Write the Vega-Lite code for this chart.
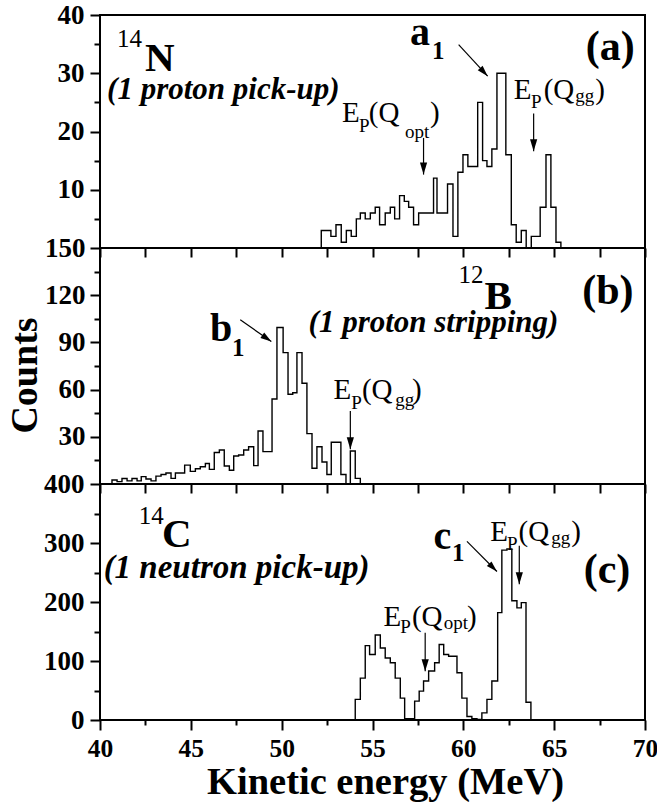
{
  "$schema": "https://vega.github.io/schema/vega-lite/v6.json",
  "background": "white",
  "padding": {"left": 4, "top": 0, "right": 0, "bottom": 0},
  "bounds": "flush",
  "spacing": 0,
  "config": {
    "view": {"stroke": "black", "strokeWidth": 2},
    "axis": {
      "domain": false, "grid": false,
      "labelFont": "Liberation Serif", "labelFontWeight": "bold", "labelFontSize": 27, "labelColor": "black",
      "labelOverlap": false, "labelFlush": false, "labelBound": false,
      "tickColor": "black", "tickWidth": 2,
      "titleFont": "Liberation Serif", "titleFontWeight": "bold", "titleColor": "black"
    }
  },
  "datasets": {
    "histA": [
      {"i":0,"E":52.18,"n":0},{"i":1,"E":52.18,"n":3},{"i":2,"E":52.71,"n":2},{"i":3,"E":52.99,"n":4},
      {"i":4,"E":53.28,"n":1},{"i":5,"E":53.56,"n":3},{"i":6,"E":53.83,"n":2},{"i":7,"E":54.11,"n":5},
      {"i":8,"E":54.33,"n":6},{"i":9,"E":54.60,"n":5},{"i":10,"E":54.88,"n":6},{"i":11,"E":55.15,"n":7},
      {"i":12,"E":55.39,"n":4},{"i":13,"E":55.70,"n":6},{"i":14,"E":55.98,"n":7},{"i":15,"E":56.22,"n":5},
      {"i":16,"E":56.49,"n":9},{"i":17,"E":56.75,"n":8},{"i":18,"E":56.99,"n":7},{"i":19,"E":57.26,"n":4},
      {"i":20,"E":57.54,"n":6},{"i":21,"E":58.36,"n":12},{"i":22,"E":58.55,"n":6},{"i":23,"E":59.13,"n":11},
      {"i":24,"E":59.43,"n":2},{"i":25,"E":59.70,"n":13},{"i":26,"E":59.98,"n":16},{"i":27,"E":60.25,"n":14},
      {"i":28,"E":60.79,"n":25},{"i":29,"E":61.06,"n":15},{"i":30,"E":61.30,"n":14},{"i":31,"E":61.57,"n":17},
      {"i":32,"E":61.85,"n":30},{"i":33,"E":62.34,"n":16},{"i":34,"E":62.64,"n":4},{"i":35,"E":62.91,"n":1},
      {"i":36,"E":63.19,"n":3},{"i":37,"E":63.46,"n":0},{"i":38,"E":63.74,"n":2},{"i":39,"E":64.23,"n":7},
      {"i":40,"E":64.55,"n":16},{"i":41,"E":64.82,"n":7},{"i":42,"E":65.10,"n":1},{"i":43,"E":65.37,"n":0}
    ],
    "histB": [
      {"i":0,"E":40.66,"n":0},{"i":1,"E":40.66,"n":2.5},{"i":2,"E":40.94,"n":1.5},{"i":3,"E":41.21,"n":3.5},
      {"i":4,"E":41.49,"n":2},{"i":5,"E":41.76,"n":3.5},{"i":6,"E":42.04,"n":2},{"i":7,"E":42.27,"n":4.7},
      {"i":8,"E":42.53,"n":3.2},{"i":9,"E":42.81,"n":2},{"i":10,"E":43.08,"n":5},{"i":11,"E":43.36,"n":6},
      {"i":12,"E":43.63,"n":7},{"i":13,"E":43.91,"n":3.6},{"i":14,"E":44.15,"n":7},{"i":15,"E":44.66,"n":12},
      {"i":16,"E":44.97,"n":8},{"i":17,"E":45.25,"n":9.7},{"i":18,"E":45.52,"n":11},{"i":19,"E":45.80,"n":13},
      {"i":20,"E":46.02,"n":9.3},{"i":21,"E":46.29,"n":20},{"i":22,"E":46.57,"n":21.6},{"i":23,"E":46.84,"n":11.4},
      {"i":24,"E":47.12,"n":8.7},{"i":25,"E":47.36,"n":17.8},{"i":26,"E":47.63,"n":18.4},{"i":27,"E":47.91,"n":21.6},
      {"i":28,"E":48.18,"n":23.7},{"i":29,"E":48.46,"n":11.7},{"i":30,"E":48.70,"n":33.7},{"i":31,"E":48.97,"n":20.6},
      {"i":32,"E":49.47,"n":54},{"i":33,"E":49.74,"n":99.5},{"i":34,"E":50.08,"n":83.5},{"i":35,"E":50.35,"n":57},
      {"i":36,"E":50.61,"n":58},{"i":37,"E":50.84,"n":83.5},{"i":38,"E":51.12,"n":64},{"i":39,"E":51.39,"n":32},
      {"i":40,"E":51.67,"n":10},{"i":41,"E":51.94,"n":23.7},{"i":42,"E":52.22,"n":14},{"i":43,"E":52.49,"n":6},
      {"i":44,"E":52.73,"n":26.5},{"i":45,"E":53.26,"n":6},{"i":46,"E":53.54,"n":0},{"i":47,"E":53.78,"n":21},
      {"i":48,"E":54.05,"n":3.6},{"i":49,"E":54.33,"n":0}
    ],
    "histC": [
      {"i":0,"E":54.05,"n":0},{"i":1,"E":54.05,"n":35},{"i":2,"E":54.33,"n":71},{"i":3,"E":54.60,"n":126},
      {"i":4,"E":54.84,"n":111},{"i":5,"E":55.15,"n":144},{"i":6,"E":55.43,"n":122},{"i":7,"E":55.70,"n":105},
      {"i":8,"E":55.98,"n":97},{"i":9,"E":56.25,"n":71},{"i":10,"E":56.53,"n":37},{"i":11,"E":56.77,"n":2},
      {"i":12,"E":57.32,"n":32},{"i":13,"E":57.57,"n":49},{"i":14,"E":57.81,"n":66},{"i":15,"E":58.09,"n":83},
      {"i":16,"E":58.42,"n":97},{"i":17,"E":58.67,"n":128},{"i":18,"E":58.92,"n":111},{"i":19,"E":59.19,"n":108},
      {"i":20,"E":59.65,"n":80},{"i":21,"E":59.92,"n":37},{"i":22,"E":60.20,"n":6},{"i":23,"E":60.47,"n":2},
      {"i":24,"E":60.75,"n":1},{"i":25,"E":61.02,"n":12},{"i":26,"E":61.30,"n":35},{"i":27,"E":61.57,"n":66},
      {"i":28,"E":61.89,"n":182},{"i":29,"E":62.12,"n":288},{"i":30,"E":62.40,"n":290},{"i":31,"E":62.67,"n":202},
      {"i":32,"E":62.95,"n":190},{"i":33,"E":63.19,"n":199},{"i":34,"E":63.45,"n":30},{"i":35,"E":63.72,"n":0}
    ],
    "texts": [
      {"p":"a","role":"nuclide","E":42.48,"n":30.4,"t":"N"},
      {"p":"a","role":"mass","E":40.94,"n":34.5,"t":"14"},
      {"p":"a","role":"reaction","E":40.39,"n":25.6,"t":"(1 proton pick-up)"},
      {"p":"a","role":"state","E":57.06,"n":34.9,"t":"a"},
      {"p":"a","role":"stateidx","E":58.27,"n":32.5,"t":"1"},
      {"p":"a","role":"panel","E":69.44,"n":32.3,"t":"(a)"},
      {"p":"a","role":"main","E":53.32,"n":21.7,"t":"E"},
      {"p":"a","role":"main","E":54.80,"n":21.7,"t":"(Q"},
      {"p":"a","role":"main","E":58.16,"n":21.7,"t":")"},
      {"p":"a","role":"sub","E":54.25,"n":20.0,"t":"P"},
      {"p":"a","role":"sub","E":56.79,"n":18.8,"t":"opt"},
      {"p":"a","role":"main","E":62.77,"n":25.6,"t":"E"},
      {"p":"a","role":"main","E":64.42,"n":25.6,"t":"(Q"},
      {"p":"a","role":"main","E":67.26,"n":25.6,"t":")"},
      {"p":"a","role":"sub","E":63.72,"n":24.1,"t":"P"},
      {"p":"a","role":"sub","E":66.16,"n":25.0,"t":"gg"},
      {"p":"b","role":"nuclide","E":61.17,"n":111.3,"t":"B"},
      {"p":"b","role":"mass","E":59.74,"n":127.8,"t":"12"},
      {"p":"b","role":"reaction","E":51.48,"n":96.6,"t":"(1 proton stripping)"},
      {"p":"b","role":"state","E":46.05,"n":90.9,"t":"b"},
      {"p":"b","role":"stateidx","E":47.26,"n":81.4,"t":"1"},
      {"p":"b","role":"panel","E":69.37,"n":114.2,"t":"(b)"},
      {"p":"b","role":"main","E":52.86,"n":53.8,"t":"E"},
      {"p":"b","role":"main","E":54.42,"n":53.8,"t":"(Q"},
      {"p":"b","role":"main","E":57.17,"n":53.8,"t":")"},
      {"p":"b","role":"sub","E":53.83,"n":47.5,"t":"P"},
      {"p":"b","role":"sub","E":56.25,"n":49.6,"t":"gg"},
      {"p":"c","role":"nuclide","E":43.41,"n":292.5,"t":"C"},
      {"p":"c","role":"mass","E":42.13,"n":332.8,"t":"14"},
      {"p":"c","role":"reaction","E":40.20,"n":241,"t":"(1 neutron pick-up)"},
      {"p":"c","role":"state","E":58.36,"n":289.8,"t":"c"},
      {"p":"c","role":"stateidx","E":59.37,"n":270,"t":"1"},
      {"p":"c","role":"panel","E":69.19,"n":233,"t":"(c)"},
      {"p":"c","role":"main","E":61.48,"n":303.9,"t":"E"},
      {"p":"c","role":"main","E":63.04,"n":303.9,"t":"(Q"},
      {"p":"c","role":"main","E":65.94,"n":303.9,"t":")"},
      {"p":"c","role":"sub","E":62.40,"n":288,"t":"P"},
      {"p":"c","role":"sub","E":64.84,"n":298,"t":"gg"},
      {"p":"c","role":"main","E":55.61,"n":159.4,"t":"E"},
      {"p":"c","role":"main","E":57.17,"n":159.4,"t":"(Q"},
      {"p":"c","role":"main","E":60.20,"n":159.4,"t":")"},
      {"p":"c","role":"sub","E":56.53,"n":148,"t":"P"},
      {"p":"c","role":"sub","E":58.92,"n":153.7,"t":"opt"}
    ],
    "arrows": [
      {"p":"a","kind":"diag","E":61.34,"n":29.5,"E2":59.74,"n2":34.9},
      {"p":"a","kind":"down","E":57.81,"n":12.6,"E2":57.81,"n2":18.9},
      {"p":"a","kind":"down","E":63.87,"n":16.6,"E2":63.87,"n2":23.1},
      {"p":"b","kind":"diag","E":49.43,"n":90.5,"E2":47.72,"n2":104.4},
      {"p":"b","kind":"down","E":53.78,"n":22.1,"E2":53.78,"n2":46.4},
      {"p":"c","kind":"diag","E":61.85,"n":251.7,"E2":60.20,"n2":302.7},
      {"p":"c","kind":"down","E":63.08,"n":230,"E2":63.08,"n2":295.4},
      {"p":"c","kind":"down","E":57.90,"n":82.8,"E2":57.90,"n2":148}
    ]
  },
  "vconcat": [
    {
      "width": 545, "height": 233,
      "encoding": {
        "x": {"field": "E", "type": "quantitative", "title": null,
              "scale": {"domain": [40, 70], "nice": false, "zero": false},
              "axis": {"values": [40,42.5,45,47.5,50,52.5,55,57.5,60,62.5,65,67.5,70], "labels": false, "tickSize": 9}},
        "y": {"field": "n", "type": "quantitative", "title": null,
              "scale": {"domain": [0, 40], "nice": false},
              "axis": {"values": [5,10,15,20,25,30,35,40], "labelExpr": "datum.value % 10 === 0 ? datum.label : ''",
                       "tickSize": {"condition": {"test": "datum.value % 10 === 0", "value": 10}, "value": 6}, "labelPadding": 6}}
      },
      "layer": [
        {"data": {"name": "histA"}, "mark": {"type": "line", "interpolate": "step-after", "color": "black", "strokeWidth": 1.4},
         "encoding": {"order": {"field": "i", "type": "quantitative"}}},
        {"data": {"name": "arrows"}, "transform": [{"filter": "datum.p === 'a'"}],
         "mark": {"type": "rule", "color": "black", "strokeWidth": 1.2},
         "encoding": {"x2": {"field": "E2"}, "y2": {"field": "n2"}}},
        {"data": {"name": "arrows"}, "transform": [{"filter": "datum.p === 'a' && datum.kind === 'down'"}],
         "mark": {"type": "point", "shape": "M0,0L-0.6,-2L0.6,-2Z", "size": 144, "filled": true, "color": "black", "opacity": 1}},
        {"data": {"name": "arrows"}, "transform": [{"filter": "datum.p === 'a' && datum.kind === 'diag'"}],
         "mark": {"type": "point", "shape": "M0,0L-0.6,-2L0.6,-2Z", "size": 121, "filled": true, "color": "black", "opacity": 1, "angle": -43}},
        {"data": {"name": "texts"}, "transform": [{"filter": "datum.p === 'a' && datum.role === 'nuclide'"}],
         "mark": {"type": "text", "font": "Liberation Serif", "fontWeight": "bold", "fontSize": 41, "align": "left", "baseline": "alphabetic", "color": "black"},
         "encoding": {"text": {"field": "t"}}},
        {"data": {"name": "texts"}, "transform": [{"filter": "datum.p === 'a' && datum.role === 'mass'"}],
         "mark": {"type": "text", "font": "Liberation Serif", "fontSize": 25, "align": "left", "baseline": "alphabetic", "color": "black"},
         "encoding": {"text": {"field": "t"}}},
        {"data": {"name": "texts"}, "transform": [{"filter": "datum.p === 'a' && datum.role === 'reaction'"}],
         "mark": {"type": "text", "font": "Liberation Serif", "fontWeight": "bold", "fontStyle": "italic", "fontSize": 31, "align": "left", "baseline": "alphabetic", "color": "black"},
         "encoding": {"text": {"field": "t"}}},
        {"data": {"name": "texts"}, "transform": [{"filter": "datum.p === 'a' && datum.role === 'state'"}],
         "mark": {"type": "text", "font": "Liberation Serif", "fontWeight": "bold", "fontSize": 40, "align": "left", "baseline": "alphabetic", "color": "black"},
         "encoding": {"text": {"field": "t"}}},
        {"data": {"name": "texts"}, "transform": [{"filter": "datum.p === 'a' && datum.role === 'stateidx'"}],
         "mark": {"type": "text", "font": "Liberation Serif", "fontWeight": "bold", "fontSize": 25, "align": "left", "baseline": "alphabetic", "color": "black"},
         "encoding": {"text": {"field": "t"}}},
        {"data": {"name": "texts"}, "transform": [{"filter": "datum.p === 'a' && datum.role === 'panel'"}],
         "mark": {"type": "text", "font": "Liberation Serif", "fontWeight": "bold", "fontSize": 42, "align": "right", "baseline": "alphabetic", "color": "black"},
         "encoding": {"text": {"field": "t"}}},
        {"data": {"name": "texts"}, "transform": [{"filter": "datum.p === 'a' && datum.role === 'main'"}],
         "mark": {"type": "text", "font": "Liberation Serif", "fontSize": 29, "align": "left", "baseline": "alphabetic", "color": "black"},
         "encoding": {"text": {"field": "t"}}},
        {"data": {"name": "texts"}, "transform": [{"filter": "datum.p === 'a' && datum.role === 'sub'"}],
         "mark": {"type": "text", "font": "Liberation Serif", "fontSize": 19, "align": "left", "baseline": "alphabetic", "color": "black"},
         "encoding": {"text": {"field": "t"}}}
      ]
    },
    {
      "width": 545, "height": 236,
      "encoding": {
        "x": {"field": "E", "type": "quantitative", "title": null,
              "scale": {"domain": [40, 70], "nice": false, "zero": false},
              "axis": {"values": [40,42.5,45,47.5,50,52.5,55,57.5,60,62.5,65,67.5,70], "labels": false, "tickSize": 9}},
        "y": {"field": "n", "type": "quantitative",
              "scale": {"domain": [0, 150], "nice": false},
              "axis": {"values": [15,30,45,60,75,90,105,120,135,150], "labelExpr": "datum.value % 30 === 0 ? datum.label : ''",
                       "tickSize": {"condition": {"test": "datum.value % 30 === 0", "value": 10}, "value": 6}, "labelPadding": 5,
                       "title": "Counts", "titleFontSize": 38, "titleX": -64, "titleY": 127, "titleAngle": -90,
                       "titleBaseline": "alphabetic", "titleAlign": "center"}}
      },
      "layer": [
        {"data": {"name": "histB"}, "mark": {"type": "line", "interpolate": "step-after", "color": "black", "strokeWidth": 1.4},
         "encoding": {"order": {"field": "i", "type": "quantitative"}}},
        {"data": {"name": "arrows"}, "transform": [{"filter": "datum.p === 'b'"}],
         "mark": {"type": "rule", "color": "black", "strokeWidth": 1.2},
         "encoding": {"x2": {"field": "E2"}, "y2": {"field": "n2"}}},
        {"data": {"name": "arrows"}, "transform": [{"filter": "datum.p === 'b' && datum.kind === 'down'"}],
         "mark": {"type": "point", "shape": "M0,0L-0.6,-2L0.6,-2Z", "size": 144, "filled": true, "color": "black", "opacity": 1}},
        {"data": {"name": "arrows"}, "transform": [{"filter": "datum.p === 'b' && datum.kind === 'diag'"}],
         "mark": {"type": "point", "shape": "M0,0L-0.6,-2L0.6,-2Z", "size": 121, "filled": true, "color": "black", "opacity": 1, "angle": -55}},
        {"data": {"name": "texts"}, "transform": [{"filter": "datum.p === 'b' && datum.role === 'nuclide'"}],
         "mark": {"type": "text", "font": "Liberation Serif", "fontWeight": "bold", "fontSize": 41, "align": "left", "baseline": "alphabetic", "color": "black"},
         "encoding": {"text": {"field": "t"}}},
        {"data": {"name": "texts"}, "transform": [{"filter": "datum.p === 'b' && datum.role === 'mass'"}],
         "mark": {"type": "text", "font": "Liberation Serif", "fontSize": 25, "align": "left", "baseline": "alphabetic", "color": "black"},
         "encoding": {"text": {"field": "t"}}},
        {"data": {"name": "texts"}, "transform": [{"filter": "datum.p === 'b' && datum.role === 'reaction'"}],
         "mark": {"type": "text", "font": "Liberation Serif", "fontWeight": "bold", "fontStyle": "italic", "fontSize": 31, "align": "left", "baseline": "alphabetic", "color": "black"},
         "encoding": {"text": {"field": "t"}}},
        {"data": {"name": "texts"}, "transform": [{"filter": "datum.p === 'b' && datum.role === 'state'"}],
         "mark": {"type": "text", "font": "Liberation Serif", "fontWeight": "bold", "fontSize": 40, "align": "left", "baseline": "alphabetic", "color": "black"},
         "encoding": {"text": {"field": "t"}}},
        {"data": {"name": "texts"}, "transform": [{"filter": "datum.p === 'b' && datum.role === 'stateidx'"}],
         "mark": {"type": "text", "font": "Liberation Serif", "fontWeight": "bold", "fontSize": 25, "align": "left", "baseline": "alphabetic", "color": "black"},
         "encoding": {"text": {"field": "t"}}},
        {"data": {"name": "texts"}, "transform": [{"filter": "datum.p === 'b' && datum.role === 'panel'"}],
         "mark": {"type": "text", "font": "Liberation Serif", "fontWeight": "bold", "fontSize": 42, "align": "right", "baseline": "alphabetic", "color": "black"},
         "encoding": {"text": {"field": "t"}}},
        {"data": {"name": "texts"}, "transform": [{"filter": "datum.p === 'b' && datum.role === 'main'"}],
         "mark": {"type": "text", "font": "Liberation Serif", "fontSize": 29, "align": "left", "baseline": "alphabetic", "color": "black"},
         "encoding": {"text": {"field": "t"}}},
        {"data": {"name": "texts"}, "transform": [{"filter": "datum.p === 'b' && datum.role === 'sub'"}],
         "mark": {"type": "text", "font": "Liberation Serif", "fontSize": 19, "align": "left", "baseline": "alphabetic", "color": "black"},
         "encoding": {"text": {"field": "t"}}}
      ]
    },
    {
      "width": 545, "height": 236,
      "encoding": {
        "x": {"field": "E", "type": "quantitative",
              "scale": {"domain": [40, 70], "nice": false, "zero": false},
              "axis": {"values": [40,42.5,45,47.5,50,52.5,55,57.5,60,62.5,65,67.5,70],
                       "labelExpr": "datum.value % 5 === 0 ? datum.label : ''", "labelFontSize": 25.5,
                       "tickSize": {"condition": {"test": "datum.value % 5 === 0", "value": 10}, "value": 5}, "labelPadding": 6,
                       "title": "Kinetic energy (MeV)", "titleFontSize": 38.5, "titleX": 285, "titleY": 73,
                       "titleBaseline": "alphabetic", "titleAlign": "center"}},
        "y": {"field": "n", "type": "quantitative", "title": null,
              "scale": {"domain": [0, 400], "nice": false},
              "axis": {"values": [0,50,100,150,200,250,300,350,400], "labelExpr": "datum.value % 100 === 0 ? datum.label : ''",
                       "tickSize": {"condition": {"test": "datum.value % 100 === 0", "value": 10}, "value": 6}, "labelPadding": 6}}
      },
      "layer": [
        {"data": {"name": "histC"}, "mark": {"type": "line", "interpolate": "step-after", "color": "black", "strokeWidth": 1.4},
         "encoding": {"order": {"field": "i", "type": "quantitative"}}},
        {"data": {"name": "arrows"}, "transform": [{"filter": "datum.p === 'c'"}],
         "mark": {"type": "rule", "color": "black", "strokeWidth": 1.2},
         "encoding": {"x2": {"field": "E2"}, "y2": {"field": "n2"}}},
        {"data": {"name": "arrows"}, "transform": [{"filter": "datum.p === 'c' && datum.kind === 'down'"}],
         "mark": {"type": "point", "shape": "M0,0L-0.6,-2L0.6,-2Z", "size": 144, "filled": true, "color": "black", "opacity": 1}},
        {"data": {"name": "arrows"}, "transform": [{"filter": "datum.p === 'c' && datum.kind === 'diag'"}],
         "mark": {"type": "point", "shape": "M0,0L-0.6,-2L0.6,-2Z", "size": 121, "filled": true, "color": "black", "opacity": 1, "angle": -45}},
        {"data": {"name": "texts"}, "transform": [{"filter": "datum.p === 'c' && datum.role === 'nuclide'"}],
         "mark": {"type": "text", "font": "Liberation Serif", "fontWeight": "bold", "fontSize": 41, "align": "left", "baseline": "alphabetic", "color": "black"},
         "encoding": {"text": {"field": "t"}}},
        {"data": {"name": "texts"}, "transform": [{"filter": "datum.p === 'c' && datum.role === 'mass'"}],
         "mark": {"type": "text", "font": "Liberation Serif", "fontSize": 25, "align": "left", "baseline": "alphabetic", "color": "black"},
         "encoding": {"text": {"field": "t"}}},
        {"data": {"name": "texts"}, "transform": [{"filter": "datum.p === 'c' && datum.role === 'reaction'"}],
         "mark": {"type": "text", "font": "Liberation Serif", "fontWeight": "bold", "fontStyle": "italic", "fontSize": 33, "align": "left", "baseline": "alphabetic", "color": "black"},
         "encoding": {"text": {"field": "t"}}},
        {"data": {"name": "texts"}, "transform": [{"filter": "datum.p === 'c' && datum.role === 'state'"}],
         "mark": {"type": "text", "font": "Liberation Serif", "fontWeight": "bold", "fontSize": 40, "align": "left", "baseline": "alphabetic", "color": "black"},
         "encoding": {"text": {"field": "t"}}},
        {"data": {"name": "texts"}, "transform": [{"filter": "datum.p === 'c' && datum.role === 'stateidx'"}],
         "mark": {"type": "text", "font": "Liberation Serif", "fontWeight": "bold", "fontSize": 25, "align": "left", "baseline": "alphabetic", "color": "black"},
         "encoding": {"text": {"field": "t"}}},
        {"data": {"name": "texts"}, "transform": [{"filter": "datum.p === 'c' && datum.role === 'panel'"}],
         "mark": {"type": "text", "font": "Liberation Serif", "fontWeight": "bold", "fontSize": 42, "align": "right", "baseline": "alphabetic", "color": "black"},
         "encoding": {"text": {"field": "t"}}},
        {"data": {"name": "texts"}, "transform": [{"filter": "datum.p === 'c' && datum.role === 'main'"}],
         "mark": {"type": "text", "font": "Liberation Serif", "fontSize": 29, "align": "left", "baseline": "alphabetic", "color": "black"},
         "encoding": {"text": {"field": "t"}}},
        {"data": {"name": "texts"}, "transform": [{"filter": "datum.p === 'c' && datum.role === 'sub'"}],
         "mark": {"type": "text", "font": "Liberation Serif", "fontSize": 19, "align": "left", "baseline": "alphabetic", "color": "black"},
         "encoding": {"text": {"field": "t"}}}
      ]
    }
  ]
}
